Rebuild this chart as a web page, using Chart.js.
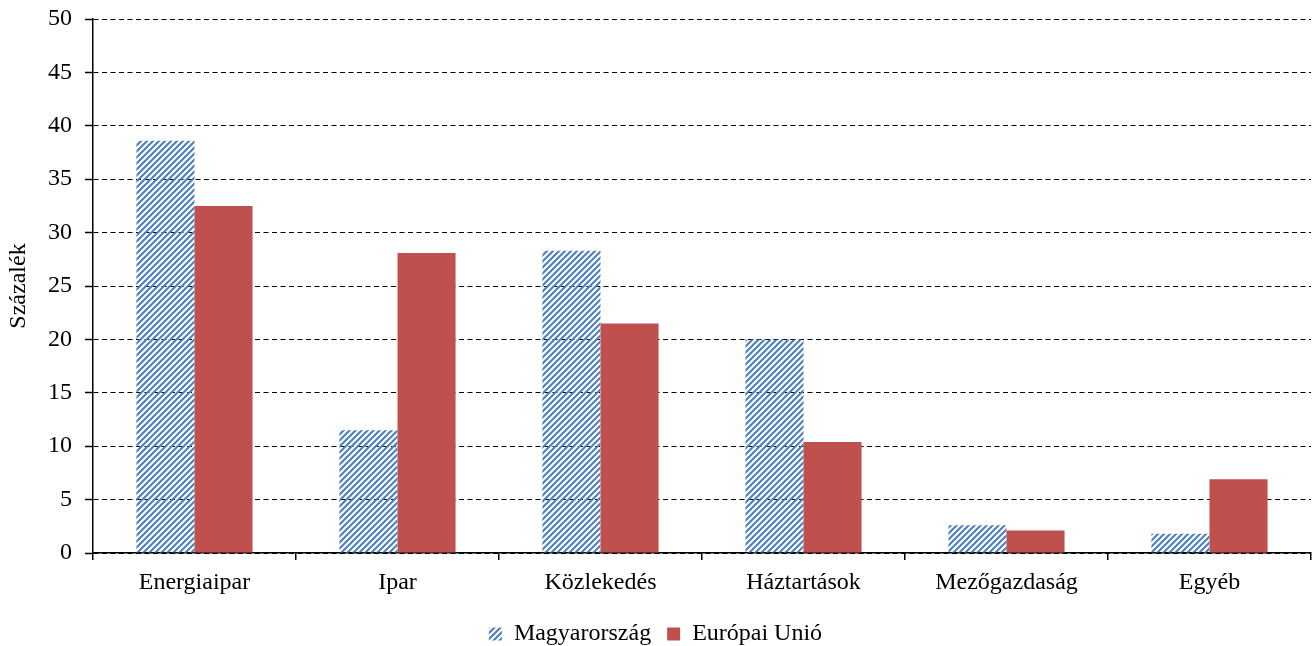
<!DOCTYPE html>
<html>
<head>
<meta charset="utf-8">
<script src="https://cdn.jsdelivr.net/npm/chart.js@4.4.1/dist/chart.umd.min.js"></script>
<style>
  html, body { margin: 0; padding: 0; background: #fff; }
  #wrap { width: 1316px; height: 646px; }
</style>
</head>
<body>
<div id="wrap"><canvas id="c" width="1316" height="646"></canvas></div>
<script>
// data
const categories = ['Energiaipar', 'Ipar', 'Közlekedés', 'Háztartások', 'Mezőgazdaság', 'Egyéb'];
const hungary = [38.6, 11.5, 28.3, 20.0, 2.6, 1.8];
const eu = [32.5, 28.1, 21.5, 10.4, 2.1, 6.9];
const seriesNames = ['Magyarország', 'Európai Unió'];
const yTicks = [0, 5, 10, 15, 20, 25, 30, 35, 40, 45, 50];

const FONT = "'Liberation Serif', 'Times New Roman', serif";
const FS = 24;

const ctx = document.getElementById('c').getContext('2d');

// diagonal hatch for the Hungary series
const makeHatch = () => {
  const t = document.createElement('canvas');
  t.width = 6; t.height = 6;
  const g = t.getContext('2d');
  g.strokeStyle = '#4F81BD';
  g.lineWidth = 2.2;
  g.beginPath();
  g.moveTo(-3, 3); g.lineTo(3, -3);
  g.moveTo(0, 6); g.lineTo(6, 0);
  g.moveTo(3, 9); g.lineTo(9, 3);
  g.stroke();
  return ctx.createPattern(t, 'repeat');
};

new Chart(ctx, {
  type: 'bar',
  data: {
    labels: categories,
    datasets: [
      { label: seriesNames[0], data: hungary, backgroundColor: makeHatch(), borderWidth: 0 },
      { label: seriesNames[1], data: eu, backgroundColor: '#C0504D', borderWidth: 0 }
    ]
  },
  options: {
    responsive: false,
    animation: false,
    devicePixelRatio: 1,
    layout: { padding: { left: 0, right: 5, top: 19, bottom: -10 } },
    datasets: { bar: { barPercentage: 1, categoryPercentage: 0.572 } },
    plugins: {
      tooltip: { enabled: false },
      legend: {
        position: 'bottom',
        labels: {
          font: { family: FONT, size: FS },
          color: '#000',
          boxWidth: 13,
          boxHeight: 13,
          padding: 16
        }
      }
    },
    scales: {
      x: {
        grid: {
          offset: true,
          drawOnChartArea: false,
          drawTicks: true,
          tickLength: 7,
          color: '#000',
          lineWidth: 1.5
        },
        border: { color: '#000', width: 1.5 },
        ticks: { font: { family: FONT, size: FS }, color: '#000', padding: 8 },
        afterFit: (s) => { s.height = 53; }
      },
      y: {
        min: 0,
        max: 50,
        afterBuildTicks: (s) => { s.ticks = yTicks.map(v => ({ value: v })); },
        grid: {
          color: '#000',
          lineWidth: 1,
          drawTicks: true,
          tickLength: 8,
          tickBorderDash: [],
          tickColor: '#000',
          tickWidth: 1.5
        },
        border: { color: '#000', width: 1.5, dash: [5, 3.5] },
        ticks: { font: { family: FONT, size: FS }, color: '#000', padding: 13 },
        title: {
          display: true,
          text: 'Százalék',
          font: { family: FONT, size: FS },
          color: '#000',
          padding: { top: 4, bottom: 0 }
        },
        afterFit: (s) => { s.width = 93; s.paddingTop = 0; s.paddingBottom = 0; }
      }
    }
  }
});
</script>
</body>
</html>
